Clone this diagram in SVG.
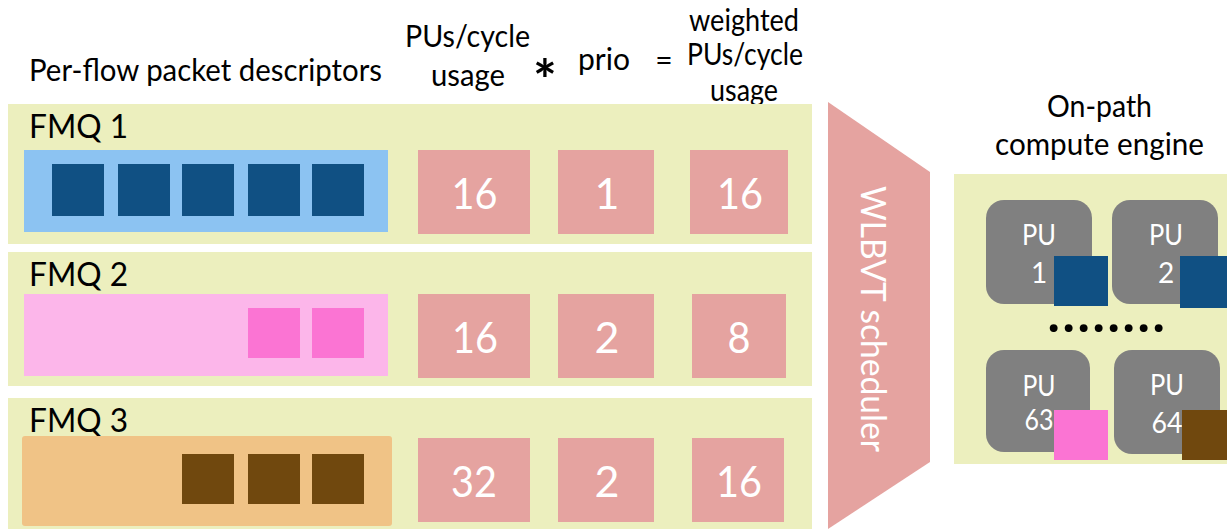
<svg xmlns="http://www.w3.org/2000/svg" width="1227" height="529" viewBox="0 0 1227 529">
<style>
text{font-family:"Lato","Liberation Sans",sans-serif}
.p{fill:#ecefbe}.s{fill:#e5a3a0}.g{fill:#808080}
.db{fill:#105083}.mg{fill:#fb74d3}.br{fill:#70480e}
.h{font-size:30px;fill:#000;text-anchor:middle}
.l{font-size:32px;fill:#000}
.n{font-size:43px;fill:#fff;text-anchor:middle}
.u{font-size:28px;fill:#fff;text-anchor:middle}
</style>
<rect width="1227" height="529" fill="#fff"/>
<g id="headers">
<text class="h" x="205.500" y="81" textLength="353" lengthAdjust="spacingAndGlyphs">Per-flow packet descriptors</text>
<text class="h" x="467.500" y="47" textLength="125" lengthAdjust="spacingAndGlyphs">PUs/cycle</text>
<text class="h" x="468" y="86" textLength="74" lengthAdjust="spacingAndGlyphs">usage</text>
<text class="h" x="545" y="100" style="font-size:56px;font-weight:700">*</text>
<text class="h" x="604" y="70" textLength="52" lengthAdjust="spacingAndGlyphs">prio</text>
<text class="h" x="664" y="71">=</text>
<text class="h" x="744" y="31" textLength="110" lengthAdjust="spacingAndGlyphs">weighted</text>
<text class="h" x="745" y="65" textLength="116" lengthAdjust="spacingAndGlyphs">PUs/cycle</text>
<text class="h" x="744" y="101" textLength="68" lengthAdjust="spacingAndGlyphs">usage</text>
</g>
<g id="fmq1">
<rect class="p" x="8" y="104" width="804" height="140"/>
<text class="l" x="29" y="138" textLength="99" lengthAdjust="spacingAndGlyphs">FMQ 1</text>
<rect x="24" y="150" width="364" height="82" fill="#8cc3f2"/>
<rect class="db" x="52" y="164" width="52" height="52"/>
<rect class="db" x="118" y="164" width="52" height="52"/>
<rect class="db" x="182" y="164" width="52" height="52"/>
<rect class="db" x="248" y="164" width="52" height="52"/>
<rect class="db" x="312" y="164" width="52" height="52"/>
<rect class="s" x="418" y="150" width="112" height="84"/>
<text class="n" x="474.500" y="209" textLength="46" lengthAdjust="spacingAndGlyphs">16</text>
<rect class="s" x="558" y="150" width="96" height="84"/>
<text class="n" x="607" y="209">1</text>
<rect class="s" x="690" y="150" width="98" height="84"/>
<text class="n" x="740" y="209" textLength="46" lengthAdjust="spacingAndGlyphs">16</text>
</g>
<g id="fmq2">
<rect class="p" x="8" y="252" width="804" height="134"/>
<text class="l" x="29" y="286" textLength="99" lengthAdjust="spacingAndGlyphs">FMQ 2</text>
<rect x="24" y="294" width="364" height="82" fill="#fcb6ea"/>
<rect class="mg" x="248" y="308" width="52" height="50"/>
<rect class="mg" x="312" y="308" width="52" height="50"/>
<rect class="s" x="418" y="294" width="112" height="84"/>
<text class="n" x="475" y="353" textLength="46" lengthAdjust="spacingAndGlyphs">16</text>
<rect class="s" x="558" y="294" width="96" height="84"/>
<text class="n" x="607" y="353">2</text>
<rect class="s" x="692" y="294" width="94" height="84"/>
<text class="n" x="739" y="353" textLength="23" lengthAdjust="spacingAndGlyphs">8</text>
</g>
<g id="fmq3">
<rect class="p" x="8" y="398" width="804" height="131"/>
<text class="l" x="29" y="432" textLength="99" lengthAdjust="spacingAndGlyphs">FMQ 3</text>
<rect x="22" y="436" width="370" height="90" rx="3" fill="#f0c386"/>
<rect class="br" x="182" y="454" width="52" height="50"/>
<rect class="br" x="248" y="454" width="52" height="50"/>
<rect class="br" x="312" y="454" width="52" height="50"/>
<rect class="s" x="418" y="438" width="112" height="84"/>
<text class="n" x="474" y="497" textLength="46" lengthAdjust="spacingAndGlyphs">32</text>
<rect class="s" x="558" y="438" width="96" height="84"/>
<text class="n" x="607" y="497">2</text>
<rect class="s" x="692" y="438" width="92" height="84"/>
<text class="n" x="739" y="497" textLength="46" lengthAdjust="spacingAndGlyphs">16</text>
</g>
<g id="scheduler">
<polygon class="s" points="828,102 930,172 930,462 828,529"/>
<text transform="translate(861,186) rotate(90)" style="font-size:35px;fill:#fff" textLength="266" lengthAdjust="spacingAndGlyphs">WLBVT scheduler</text>
</g>
<g id="engine">
<text class="h" x="1099.500" y="117" textLength="105" lengthAdjust="spacingAndGlyphs">On-path</text>
<text class="h" x="1099.500" y="155" textLength="209" lengthAdjust="spacingAndGlyphs">compute engine</text>
<rect class="p" x="954" y="174" width="273" height="290"/>
<text x="1047.500 1062.500 1077.500 1092.500 1107.500 1122.500 1137.500 1152.500" y="332" style="font-size:52px;fill:#000;font-weight:700">........</text>
</g>
<g id="pu1">
<rect class="g" x="986" y="200" width="106" height="104" rx="18"/>
<text class="u" x="1039" y="245" textLength="34" lengthAdjust="spacingAndGlyphs">PU</text>
<text class="u" x="1039" y="283">1</text>
<rect class="db" x="1054" y="256" width="54" height="50"/>
</g>
<g id="pu2">
<rect class="g" x="1112" y="200" width="106" height="104" rx="18"/>
<text class="u" x="1166" y="245" textLength="34" lengthAdjust="spacingAndGlyphs">PU</text>
<text class="u" x="1166" y="283">2</text>
<rect class="db" x="1180" y="256" width="47" height="52"/>
</g>
<g id="pu63">
<rect class="g" x="986" y="350" width="104" height="102" rx="18"/>
<text class="u" x="1039" y="396" textLength="33" lengthAdjust="spacingAndGlyphs">PU</text>
<text class="u" x="1039" y="430" textLength="29" lengthAdjust="spacingAndGlyphs">63</text>
<rect class="mg" x="1054" y="410" width="54" height="50"/>
</g>
<g id="pu64">
<rect class="g" x="1114" y="350" width="106" height="104" rx="18"/>
<text class="u" x="1167" y="395" textLength="34" lengthAdjust="spacingAndGlyphs">PU</text>
<text class="u" x="1167" y="433" textLength="31" lengthAdjust="spacingAndGlyphs">64</text>
<rect class="br" x="1182" y="410" width="45" height="50"/>
</g>
<g id="connectors"/>
</svg>
